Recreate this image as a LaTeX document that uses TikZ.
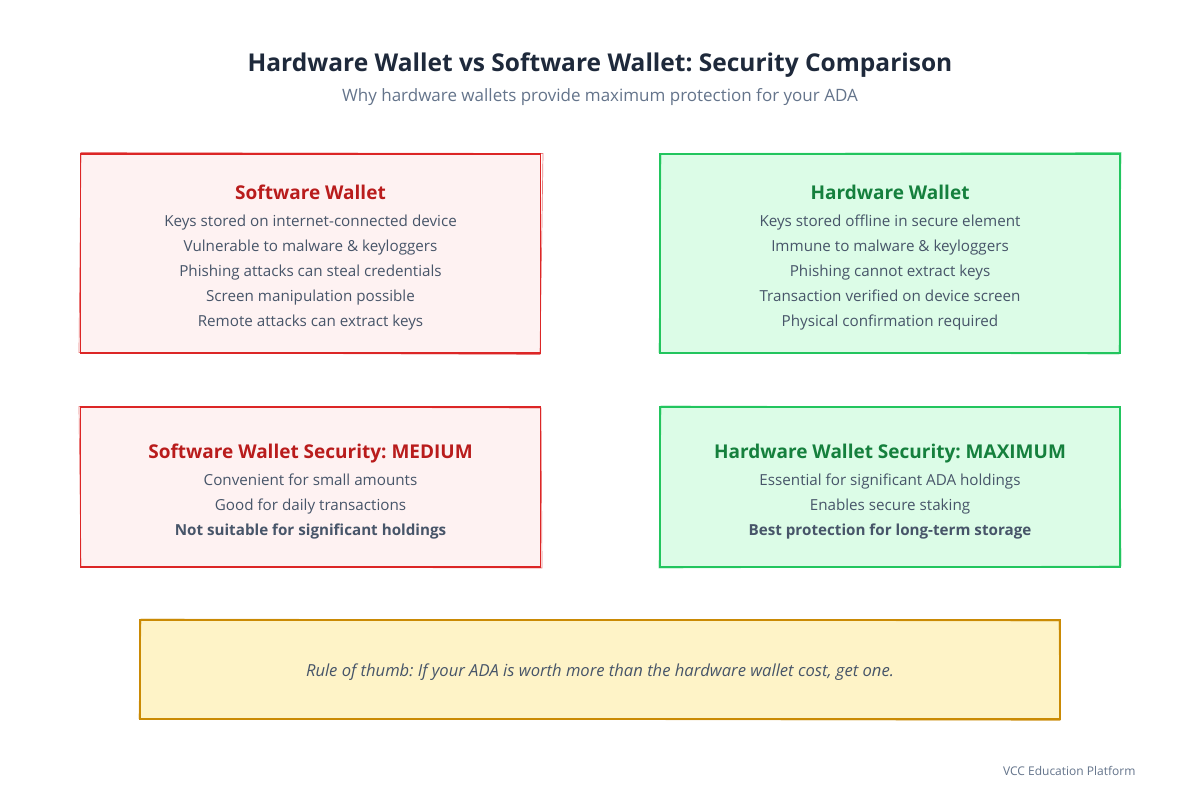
\documentclass[tikz,border=0pt]{standalone}
\usepackage{fontspec}
\setmainfont{Open Sans}
\usetikzlibrary{positioning}
\frenchspacing
\definecolor{titlecol}{HTML}{1E293B}
\definecolor{subcol}{HTML}{64748B}
\definecolor{textcol}{HTML}{475569}
\definecolor{swred}{HTML}{DC2626}
\definecolor{swdark}{HTML}{B91C1C}
\definecolor{swfill}{HTML}{FEF2F2}
\definecolor{hwgreen}{HTML}{22C55E}
\definecolor{hwdark}{HTML}{15803D}
\definecolor{hwfill}{HTML}{DCFCE7}
\definecolor{tipgold}{HTML}{CA8A04}
\definecolor{tipfill}{HTML}{FEF3C7}
\begin{document}
\begin{tikzpicture}[x=1pt,y=-1pt]
\tikzset{
  card/.style={draw, line width=1.8pt, minimum width=460pt, inner sep=0pt},
  swcard/.style={card, draw=swred, fill=swfill},
  hwcard/.style={card, draw=hwgreen, fill=hwfill},
  head/.style={font=\fontsize{19}{23}\selectfont\bfseries, anchor=base},
  body/.style={font=\fontsize{15.2}{18}\selectfont, text=textcol, anchor=base}
}
\useasboundingbox[fill=white] (0,0) rectangle (1200,800);
% title
\node[font=\fontsize{24.5}{28}\selectfont\bfseries, text=titlecol, anchor=base] (title) at (600,71) {Hardware Wallet vs Software Wallet: Security Comparison};
\node[font=\fontsize{17}{20}\selectfont, text=subcol, anchor=base] (subtitle) at (600,102) {Why hardware wallets provide maximum protection for your ADA};
%%% top row
\node[swcard, minimum height=199pt] (sw) at (310.5,253.5) {};
\draw[swred, line width=0.7pt, opacity=0.6] (81,152.5) -- (543,153.5) -- (540,354.5) -- (79,352.5) -- cycle;
\node[head, text=swdark] (swhead) at ([yshift=-46pt]sw.north) {Software Wallet};
\foreach \txt [count=\i] in {Keys stored on internet-connected device, Vulnerable to malware \& keyloggers, Phishing attacks can steal credentials, Screen manipulation possible, Remote attacks can extract keys}
  \node[body] (sw-\i) at ([yshift={-27pt-25pt*(\i-1)}]swhead.base) {\txt};
\node[hwcard, minimum height=199pt] (hw) at (890,253.5) {};
\draw[hwgreen, line width=0.7pt, opacity=0.6] (661,153.5) -- (1121,152.5) -- (1119,354) -- (659,352.5) -- cycle;
\node[head, text=hwdark] (hwhead) at ([yshift=-46pt]hw.north) {Hardware Wallet};
\foreach \txt [count=\i] in {Keys stored offline in secure element, Immune to malware \& keyloggers, Phishing cannot extract keys, Transaction verified on device screen, Physical confirmation required}
  \node[body] (hw-\i) at ([yshift={-27pt-25pt*(\i-1)}]hwhead.base) {\txt};
%%% second row
\node[swcard, minimum height=160pt] (swsec) at (310.5,487) {};
\draw[swred, line width=0.7pt, opacity=0.6] (79,406.5) -- (541,408) -- (542,568) -- (81,566.5) -- cycle;
\node[head, text=swdark] (swsechead) at ([yshift=-52pt]swsec.north) {Software Wallet Security: MEDIUM};
\node[body] (swsec-1) at ([yshift=-27pt]swsechead.base) {Convenient for small amounts};
\node[body] (swsec-2) at ([yshift=-52pt]swsechead.base) {Good for daily transactions};
\node[body, font=\fontsize{15.2}{18}\selectfont\bfseries] (swsec-3) at ([yshift=-77pt]swsechead.base) {Not suitable for significant holdings};
\node[hwcard, minimum height=160pt] (hwsec) at (890,487) {};
\draw[hwgreen, line width=0.7pt, opacity=0.6] (661,406) -- (1120,407.5) -- (1121,566) -- (659,568) -- cycle;
\node[head, text=hwdark] (hwsechead) at ([yshift=-52pt]hwsec.north) {Hardware Wallet Security: MAXIMUM};
\node[body] (hwsec-1) at ([yshift=-27pt]hwsechead.base) {Essential for significant ADA holdings};
\node[body] (hwsec-2) at ([yshift=-52pt]hwsechead.base) {Enables secure staking};
\node[body, font=\fontsize{15.2}{18}\selectfont\bfseries] (hwsec-3) at ([yshift=-77pt]hwsechead.base) {Best protection for long-term storage};
%%% rule of thumb
\node[card, draw=tipgold, fill=tipfill, minimum width=920pt, minimum height=99pt] (tip) at (600,669.5) {};
\draw[tipgold, line width=0.7pt, opacity=0.6] (141,619) -- (1059,621) -- (1060,720.5) -- (139,718.5) -- cycle;
\node[body, font=\fontsize{16.6}{18}\selectfont\itshape] (tiptext) at ([yshift=-7pt]tip.center) {Rule of thumb: If your ADA is worth more than the hardware wallet cost, get one.};
% footer
\node[font=\fontsize{12}{14}\selectfont, text=subcol, anchor=base east] (footer) at (1139,775) {VCC Education Platform};
\end{tikzpicture}
\end{document}
